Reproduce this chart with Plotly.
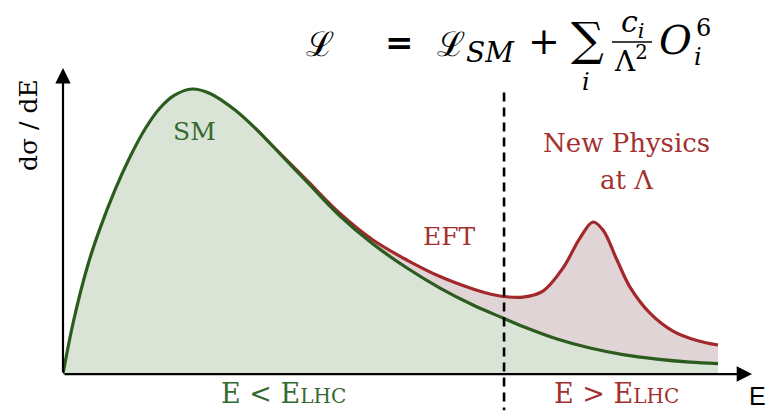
import plotly.graph_objects as go

# Standard Model spectrum dσ/dE (arbitrary units) sampled along energy E
sm_E = [0.000, 0.150, 0.364, 0.539, 0.757, 0.975, 1.194, 1.412, 1.630,
        1.878, 2.140, 2.504, 2.795, 3.057, 3.552, 4.032, 4.512, 5.007, 5.488,
        5.968, 6.405, 6.696, 7.191, 7.671, 8.151, 8.646, 9.127, 9.534]
sm_xs = [0.000, 1.700, 3.580, 4.760, 6.020, 7.092, 8.007, 8.693, 9.118,
         9.314, 9.167, 8.627, 8.039, 7.435, 6.275, 5.163, 4.248, 3.464, 2.810,
         2.255, 1.830, 1.552, 1.144, 0.850, 0.637, 0.490, 0.392, 0.343]

# EFT / new-physics spectrum: follows SM at low E, resonance near Λ
np_E = [2.504, 2.795, 3.057, 3.552, 4.032, 4.512, 5.007, 5.488, 5.968, 6.215,
        6.405, 6.696, 6.987, 7.278, 7.525, 7.715, 7.860, 8.064, 8.253, 8.544,
        8.879, 9.229, 9.534]
np_xs = [8.600, 8.020, 7.440, 6.324, 5.245, 4.379, 3.725, 3.186, 2.778, 2.614,
         2.533, 2.516, 2.712, 3.464, 4.444, 4.967, 4.706, 3.725, 2.843, 1.993,
         1.405, 1.095, 0.948]

# Boundary of the LHC-reachable energy range
E_LHC = 6.42
divider_y = [9.2, -1.18]

GREEN_LINE = "#2b5b1d"
GREEN_FILL = "#d9e4d7"
GREEN_TEXT = "#356a2f"
RED_LINE = "#a3282c"
RED_FILL = "#e0d4d6"
RED_TEXT = "#a3302f"

W, H = 767, 416
L, R, T, B = 63, 17, 68, 4
PW, PH = W - L - R, H - T - B


def at(px, py):
    """Pixel position on the page -> paper coordinates."""
    return (px - L) / PW, (H - B - py) / PH


fig = go.Figure()

fig.add_trace(go.Scatter(
    x=np_E, y=np_xs, mode="lines", fill="tozeroy", fillcolor=RED_FILL,
    line=dict(color=RED_LINE, width=3.2, shape="spline", smoothing=1.0),
    hoverinfo="skip", showlegend=False))

fig.add_trace(go.Scatter(
    x=sm_E, y=sm_xs, mode="lines", fill="tozeroy", fillcolor=GREEN_FILL,
    line=dict(color=GREEN_LINE, width=3.2, shape="spline", smoothing=1.0),
    hoverinfo="skip", showlegend=False))

fig.add_trace(go.Scatter(
    x=[E_LHC, E_LHC], y=divider_y, mode="lines",
    line=dict(color="black", width=2.6, dash="9px,6px"),
    hoverinfo="skip", showlegend=False))

annotations = []

# axes drawn as arrows
for tip in [(10.03, 0), (0, 10.0)]:
    annotations.append(dict(x=tip[0], y=tip[1], ax=0, ay=0, xref="x", yref="y",
                            axref="x", ayref="y", text="", showarrow=True,
                            arrowhead=2, arrowsize=1.4, arrowwidth=2.2,
                            arrowcolor="black", standoff=0))

SERIF = "DejaVu Serif"
MATH = "DejaVu Serif"


def label(text, px, py, size, color="black", family=SERIF, angle=0):
    x, y = at(px, py)
    annotations.append(dict(x=x, y=y, xref="paper", yref="paper", text=text,
                            showarrow=False, xanchor="center",
                            yanchor="middle", textangle=angle,
                            font=dict(size=size, color=color, family=family)))


label("dσ / dE", 29, 125, 25, angle=-90)
label("E", 757, 396, 25, family="Liberation Sans")
label("SM", 194, 131, 25, GREEN_TEXT)
label("EFT", 449, 236, 25, RED_TEXT)
label("New Physics", 626, 143, 26, RED_TEXT)
label("at Λ", 627, 180, 26, RED_TEXT)
label("E &lt; E<span style='font-size:20px'>LHC</span>", 283, 393, 27, GREEN_TEXT)
label("E &gt; E<span style='font-size:20px'>LHC</span>", 616, 393, 27, RED_TEXT)

# Lagrangian of the effective field theory
label("ℒ", 320, 44, 34, family=MATH)
label("<b>=</b>", 399, 42, 34, family=MATH)
label("ℒ", 451, 44, 34, family=MATH)
label("<i>SM</i>", 490, 53, 28, family=MATH)
label("+", 544, 41, 38, family=MATH)
label("∑", 587, 39, 46, family=MATH)
label("<i>i</i>", 586, 82, 24, family=MATH)
label("<i>c<sub>i</sub></i>", 633, 23, 30, family=MATH)
label("Λ<sup>2</sup>", 631, 60, 28, family=MATH)
label("<i>O</i>", 675, 40, 40, family=MATH)
label("6", 703, 28, 24, family=MATH)
label("<i>i</i>", 698, 57, 24, family=MATH)

bx0, by0 = at(612, 42)
bx1, _ = at(652, 42)

fig.update_layout(
    width=W, height=H,
    margin=dict(l=L, r=R, t=T, b=B),
    paper_bgcolor="white", plot_bgcolor="white",
    xaxis=dict(range=[0, 10], visible=False, fixedrange=True),
    yaxis=dict(range=[-1.24, 10], visible=False, fixedrange=True),
    annotations=annotations,
    shapes=[dict(type="line", xref="paper", yref="paper",
                 x0=bx0, x1=bx1, y0=by0, y1=by0,
                 line=dict(color="black", width=1.5))],
)

fig.write_html("out.html")
